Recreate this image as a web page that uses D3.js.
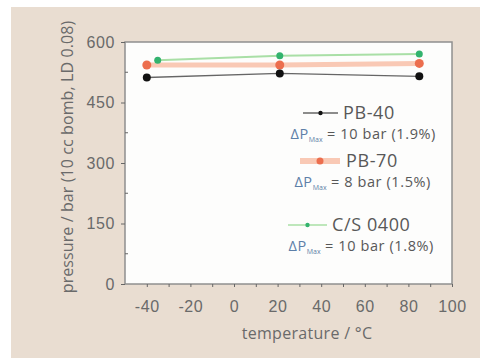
<!DOCTYPE html>
<html>
<head>
<meta charset="utf-8">
<script src="https://cdn.jsdelivr.net/npm/d3@7"></script>
<style>
  body { margin: 0; background: #fff; }
  svg { display: block; font-family: "Open Sans", "DejaVu Sans", sans-serif; }
</style>
</head>
<body>
<div id="chart"></div>
<script>
  // Datos
  const series_names = ['PB-40', 'PB-70', 'C/S 0400']
  const temps_pb40 = [-40, 21, 85]
  const press_pb40 = [512, 522, 515]
  const temps_pb70 = [-40, 21, 85]
  const press_pb70 = [543, 543, 547]
  const temps_cs = [-35, 21, 85]
  const press_cs = [555, 566, 570]
  const delta_texts = ['= 10 bar (1.9%)', '= 8 bar (1.5%)', '= 10 bar (1.8%)']
  const x_ticks = [-40, -20, 0, 20, 40, 60, 80, 100]
  const y_ticks = [0, 150, 300, 450, 600]

  const width = 480
  const height = 359
  const margin = { top: 42, right: 28, bottom: 75, left: 125 }

  const svg = d3.select('#chart').append('svg')
    .attr('width', width)
    .attr('height', height)

  // Fondo beige
  svg.append('rect')
    .attr('x', 11).attr('y', 7)
    .attr('width', width - 11).attr('height', 351)
    .attr('fill', '#e9ddd1')

  const x = d3.scaleLinear()
    .domain([-50, 100])
    .range([margin.left, width - margin.right])

  const y = d3.scaleLinear()
    .domain([0, 600])
    .range([height - margin.bottom, margin.top])

  // Área del gráfico
  svg.append('rect')
    .attr('x', x(-50)).attr('y', y(600))
    .attr('width', x(100) - x(-50)).attr('height', y(0) - y(600))
    .attr('fill', '#fdfdfc')
    .attr('stroke', '#8f8f8f')
    .attr('stroke-width', 1.5)

  // Ejes
  const xAxis = svg.append('g')
    .attr('transform', `translate(0,${y(0)})`)
    .call(d3.axisBottom(x).tickValues(d3.range(-40, 101, 10)).tickSize(3).tickFormat(d => x_ticks.includes(d) ? d : ''))
  xAxis.select('.domain').remove()
  xAxis.selectAll('line').attr('stroke', '#666')
  xAxis.selectAll('text')
    .attr('font-size', 16).attr('fill', '#6a6a6a')
    .attr('letter-spacing', 0.6)
    .attr('y', 28).attr('dy', null)

  const yAxis = svg.append('g')
    .attr('transform', `translate(${x(-50)},0)`)
    .call(d3.axisLeft(y).tickValues(y_ticks).tickSize(4).tickPadding(6))
  yAxis.select('.domain').remove()
  yAxis.selectAll('line').attr('stroke', '#666')
  yAxis.selectAll('text')
    .attr('font-size', 16).attr('fill', '#6a6a6a')
    .attr('letter-spacing', 0.6)

  // Ticks menores del eje y
  svg.append('g')
    .selectAll('line')
    .data([75, 225, 375, 525])
    .join('line')
    .attr('x1', x(-50)).attr('x2', x(-50) + 3)
    .attr('y1', d => y(d)).attr('y2', d => y(d))
    .attr('stroke', '#666')

  // Títulos de ejes
  svg.append('text')
    .attr('x', 307).attr('y', 339)
    .attr('text-anchor', 'middle')
    .attr('font-size', 16)
    .attr('letter-spacing', 0.3)
    .attr('fill', '#6a6a6a')
    .text('temperature / °C')

  svg.append('text')
    .attr('transform', `translate(73,157) rotate(-90)`)
    .attr('text-anchor', 'middle')
    .attr('font-size', 16)
    .attr('letter-spacing', 0.1)
    .attr('fill', '#6a6a6a')
    .text('pressure / bar (10 cc bomb, LD 0.08)')

  const line = d3.line().x(d => x(d[0])).y(d => y(d[1]))

  const series = [
    { name: series_names[0], data: d3.zip(temps_pb40, press_pb40), line: '#666', lw: 1.3, pt: '#111', r: 4 },
    { name: series_names[1], data: d3.zip(temps_pb70, press_pb70), line: '#f9c9b5', lw: 5, pt: '#ec6e4e', r: 4.5 },
    { name: series_names[2], data: d3.zip(temps_cs, press_cs), line: '#a9dfa6', lw: 2, pt: '#33b36e', r: 3.5 }
  ]

  // Dibujamos las series (orden: naranja, verde, negro encima)
  const draw_order = [1, 2, 0]
  draw_order.forEach(i => {
    const s = series[i]
    svg.append('path')
      .datum(s.data)
      .attr('d', line)
      .attr('fill', 'none')
      .attr('stroke', s.line)
      .attr('stroke-width', s.lw)
    svg.append('g')
      .selectAll('circle')
      .data(s.data)
      .join('circle')
      .attr('cx', d => x(d[0]))
      .attr('cy', d => y(d[1]))
      .attr('r', s.r)
      .attr('fill', s.pt)
  })

  // Leyenda
  const legend_y = [113, 161, 225]
  const legend_line = [[303, 338], [300, 340], [288, 327]]
  const name_x = [343, 346, 332]
  const delta_y = [139, 187, 251]
  const delta_right = [436, 431, 434]
  series.forEach((s, i) => {
    const g = svg.append('g')
    const [x1, x2] = legend_line[i]
    g.append('line')
      .attr('x1', x1).attr('x2', x2)
      .attr('y1', legend_y[i]).attr('y2', legend_y[i])
      .attr('stroke', s.line).attr('stroke-width', i == 1 ? 6 : 1.5)
    g.append('circle')
      .attr('cx', (x1 + x2) / 2).attr('cy', legend_y[i])
      .attr('r', i == 1 ? 3.5 : 2.2)
      .attr('fill', s.pt)
    g.append('text')
      .attr('x', name_x[i]).attr('y', legend_y[i] + 6)
      .attr('font-size', 18)
      .attr('letter-spacing', 0.6)
      .attr('fill', '#585858')
      .text(s.name)

    const t = g.append('text')
      .attr('x', delta_right[i]).attr('y', delta_y[i])
      .attr('text-anchor', 'end')
      .attr('font-size', 14.5)
      .attr('letter-spacing', 0.6)
      .attr('fill', '#585858')
    t.append('tspan').attr('fill', '#5d7fa8').text('ΔP')
    t.append('tspan').attr('font-size', 7).attr('letter-spacing', 0).attr('dy', 3).attr('fill', '#5d7fa8').text('Max')
    t.append('tspan').attr('dy', -3).text(' ' + delta_texts[i])
  })
</script>
</body>
</html>
